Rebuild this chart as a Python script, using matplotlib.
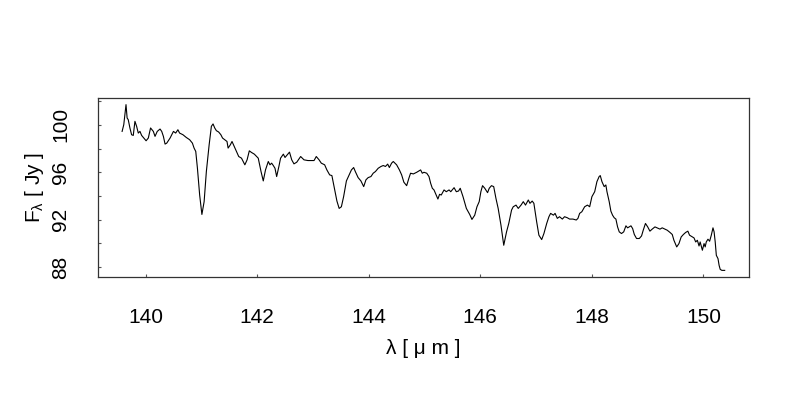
import matplotlib
matplotlib.use("Agg")
import matplotlib.pyplot as plt
from matplotlib.ticker import FixedLocator

# Spectrum
wavelength = [
    139.58, 139.61, 139.65, 139.67, 139.69, 139.72, 139.75, 139.78, 139.81, 139.84,
    139.87, 139.90, 139.93, 139.97, 140.01, 140.05, 140.09, 140.14, 140.17, 140.21,
    140.26, 140.29, 140.32, 140.35, 140.38, 140.44, 140.50, 140.54, 140.58, 140.61,
    140.67, 140.73, 140.79, 140.84, 140.87, 140.90, 140.93, 140.97, 141.01, 141.05,
    141.09, 141.14, 141.18, 141.21, 141.24, 141.27, 141.31, 141.35, 141.38, 141.42,
    141.46, 141.48, 141.52, 141.55, 141.59, 141.63, 141.67, 141.72, 141.78, 141.82,
    141.86, 141.90, 141.95, 142.02, 142.07, 142.11, 142.15, 142.20, 142.23, 142.26,
    142.29, 142.32, 142.35, 142.39, 142.42, 142.47, 142.50, 142.54, 142.58, 142.62,
    142.66, 142.71, 142.78, 142.84, 142.91, 143.02, 143.06, 143.11, 143.15, 143.21,
    143.25, 143.30, 143.34, 143.39, 143.43, 143.47, 143.51, 143.55, 143.60, 143.65,
    143.69, 143.73, 143.76, 143.81, 143.86, 143.91, 143.95, 143.99, 144.04, 144.08,
    144.12, 144.17, 144.22, 144.26, 144.30, 144.34, 144.37, 144.41, 144.44, 144.50,
    144.55, 144.59, 144.63, 144.68, 144.72, 144.75, 144.80, 144.86, 144.90, 144.93,
    144.96, 144.99, 145.04, 145.08, 145.11, 145.14, 145.17, 145.21, 145.24, 145.27,
    145.30, 145.35, 145.39, 145.44, 145.47, 145.53, 145.57, 145.61, 145.64, 145.69,
    145.75, 145.81, 145.85, 145.90, 145.94, 145.98, 146.01, 146.04, 146.08, 146.13,
    146.16, 146.20, 146.24, 146.28, 146.32, 146.37, 146.42, 146.47, 146.51, 146.56,
    146.59, 146.64, 146.68, 146.73, 146.77, 146.81, 146.86, 146.89, 146.93, 146.96,
    147.01, 147.05, 147.10, 147.14, 147.19, 147.23, 147.26, 147.31, 147.34, 147.38,
    147.42, 147.47, 147.51, 147.56, 147.60, 147.66, 147.72, 147.75, 147.78, 147.82,
    147.87, 147.92, 147.96, 148.00, 148.05, 148.09, 148.13, 148.15, 148.18, 148.22,
    148.25, 148.27, 148.31, 148.34, 148.37, 148.40, 148.43, 148.46, 148.49, 148.53,
    148.57, 148.61, 148.64, 148.67, 148.70, 148.73, 148.76, 148.80, 148.85, 148.89,
    148.92, 148.96, 149.00, 149.04, 149.08, 149.13, 149.17, 149.22, 149.26, 149.31,
    149.35, 149.40, 149.44, 149.47, 149.52, 149.56, 149.60, 149.64, 149.68, 149.72,
    149.75, 149.80, 149.83, 149.86, 149.89, 149.92, 149.94, 149.98, 150.01, 150.03,
    150.05, 150.08, 150.11, 150.14, 150.17, 150.19, 150.21, 150.23, 150.26, 150.28,
    150.30, 150.33, 150.38,
]
flux = [
    99.45, 100.02, 101.71, 100.58, 100.44, 99.74, 99.17, 99.11, 100.30, 99.88,
    99.31, 99.45, 99.11, 98.89, 98.66, 98.89, 99.74, 99.45, 99.03, 99.45,
    99.65, 99.45, 99.03, 98.38, 98.46, 98.89, 99.45, 99.31, 99.59, 99.31,
    99.17, 98.94, 98.75, 98.46, 98.04, 97.76, 96.34, 94.08, 92.44, 93.52,
    96.06, 98.32, 99.88, 100.08, 99.74, 99.51, 99.40, 99.17, 98.89, 98.75,
    98.60, 98.04, 98.32, 98.60, 98.18, 97.76, 97.33, 97.19, 96.63, 97.05,
    97.81, 97.67, 97.53, 97.19, 96.06, 95.27, 96.20, 96.91, 96.63, 96.77,
    96.57, 96.34, 95.64, 96.49, 97.19, 97.53, 97.25, 97.47, 97.70, 97.05,
    96.71, 96.85, 97.33, 97.05, 96.99, 96.99, 97.33, 97.05, 96.77, 96.63,
    96.20, 95.78, 95.72, 94.51, 93.57, 92.95, 93.09, 93.94, 95.27, 95.78,
    96.20, 96.40, 96.06, 95.55, 95.27, 94.79, 95.36, 95.55, 95.64, 95.92,
    96.06, 96.34, 96.49, 96.57, 96.49, 96.69, 96.40, 96.77, 96.91, 96.63,
    96.20, 95.78, 95.16, 94.87, 95.50, 95.92, 95.86, 96.00, 96.12, 96.20,
    95.92, 96.00, 95.92, 95.64, 95.07, 94.65, 94.51, 94.08, 93.74, 94.14,
    94.08, 94.51, 94.36, 94.51, 94.36, 94.70, 94.36, 94.42, 94.65, 93.94,
    92.95, 92.44, 92.02, 92.38, 93.09, 93.52, 94.36, 94.87, 94.65, 94.28,
    94.65, 94.87, 94.79, 93.80, 92.95, 91.54, 89.84, 90.97, 91.68, 92.81,
    93.09, 93.23, 92.95, 93.23, 93.52, 93.23, 93.66, 93.38, 93.57, 93.38,
    91.82, 90.69, 90.32, 90.83, 91.68, 92.25, 92.53, 92.38, 92.53, 92.11,
    92.25, 92.05, 92.25, 92.16, 92.05, 92.05, 91.97, 92.11, 92.53, 92.67,
    93.09, 93.23, 93.09, 93.94, 94.36, 95.21, 95.64, 95.72, 95.21, 94.79,
    94.93, 94.36, 93.52, 92.72, 92.38, 92.16, 92.05, 91.39, 90.97, 90.83,
    90.97, 91.48, 91.31, 91.39, 91.48, 91.25, 90.75, 90.41, 90.41, 90.63,
    91.11, 91.68, 91.39, 91.03, 91.20, 91.39, 91.31, 91.20, 91.31, 91.20,
    91.11, 90.92, 90.75, 90.26, 89.70, 89.98, 90.54, 90.75, 90.92, 91.03,
    90.69, 90.54, 90.46, 90.12, 90.26, 89.78, 90.12, 89.42, 89.98, 89.70,
    90.12, 90.35, 90.18, 90.69, 91.31, 90.97, 90.12, 88.99, 88.71, 88.14,
    87.80, 87.72, 87.72,
]

x_ticks = [140, 142, 144, 146, 148, 150]
y_ticks = [88, 92, 96, 100]
y_minor = [90, 94, 98, 102]

plt.rcParams['font.family'] = ['Liberation Sans', 'DejaVu Sans']
plt.rcParams['mathtext.fontset'] = 'custom'
plt.rcParams['mathtext.rm'] = 'Liberation Sans'
plt.rcParams['mathtext.it'] = 'Liberation Sans'

fig = plt.figure(figsize=(8, 4), dpi=100)
ax = fig.add_axes([0.1225, 0.3075, 0.8135, 0.4475])

ax.plot(wavelength, flux, color='black', lw=0.8)
ax.margins(x=0.04, y=0.04)

ax.xaxis.set_major_locator(FixedLocator(x_ticks))
ax.yaxis.set_major_locator(FixedLocator(y_ticks))
ax.yaxis.set_minor_locator(FixedLocator(y_minor))

for s in ax.spines.values():
    s.set_color('#333333')
    s.set_linewidth(0.9)

ax.tick_params(axis='both', which='both', direction='in', length=2.5,
               width=0.8, color='#555555', labelsize=15)
ax.tick_params(axis='x', pad=22)
ax.tick_params(axis='y', pad=20)
for lab in ax.get_yticklabels():
    lab.set_rotation(90)
    lab.set_va('center')

ax.set_xlabel('λ [ μ m ]', fontsize=15)
ax.xaxis.set_label_coords(0.5, -0.40)
ax.xaxis.label.set_va('center')

ax.set_ylabel(r'$\mathrm{F}_{\lambda}$ [ Jy ]', fontsize=15)
ax.yaxis.set_label_coords(-0.097, 0.5)
ax.yaxis.label.set_va('center')

fig.savefig('out.png', dpi=100)
